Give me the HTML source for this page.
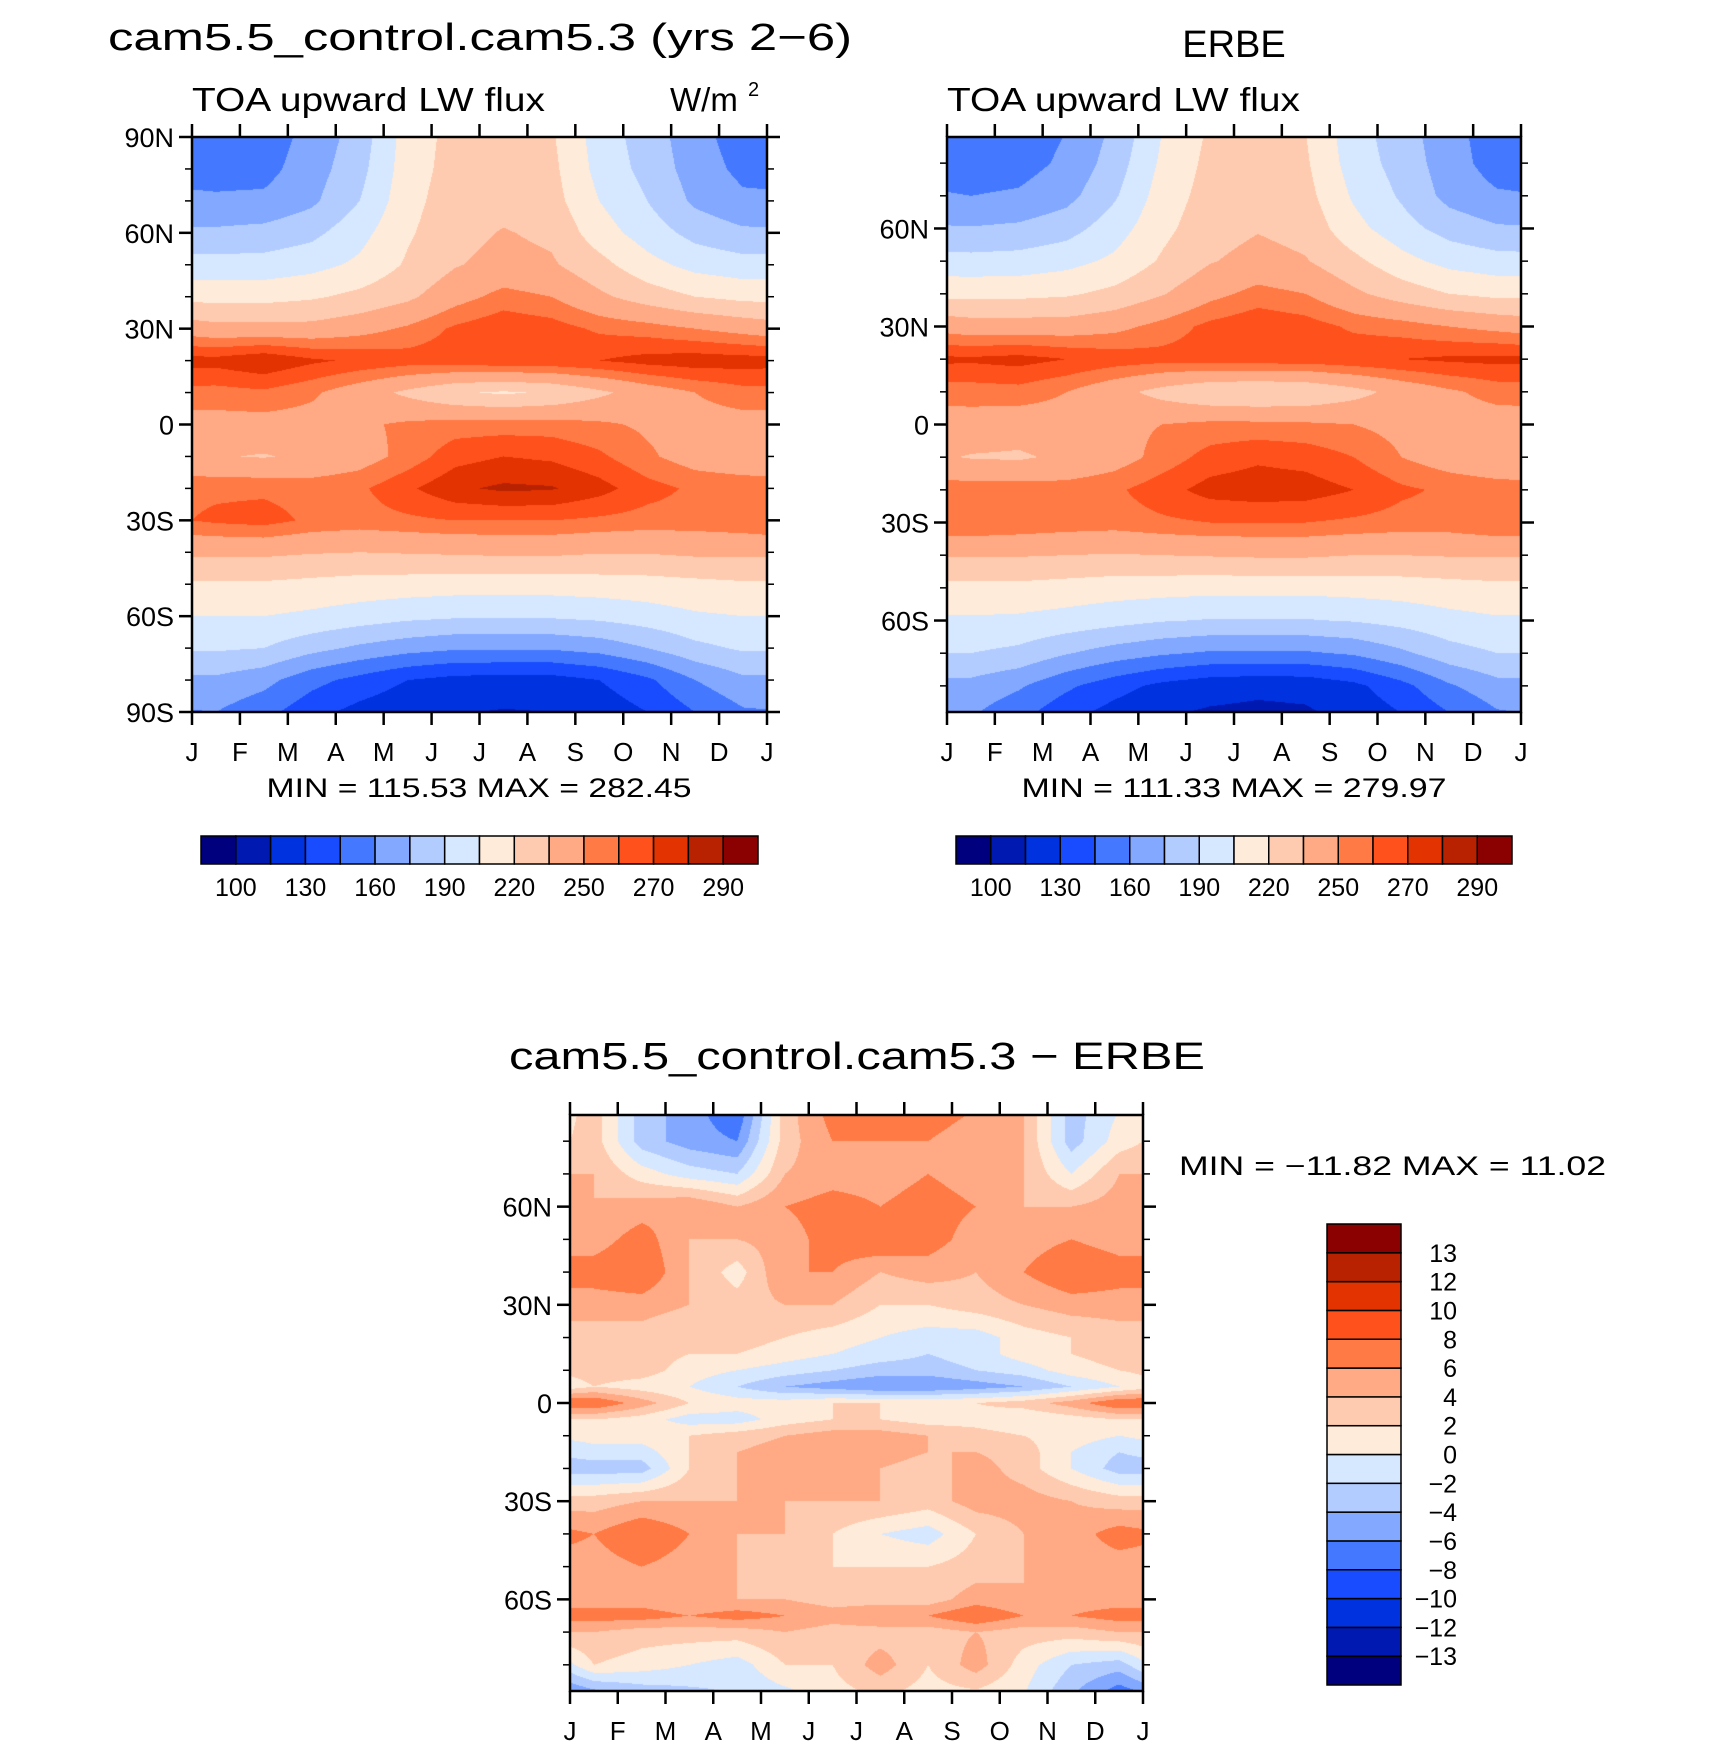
<!DOCTYPE html>
<html><head><meta charset="utf-8">
<style>
html,body{margin:0;padding:0;background:#fff;}
#wrap{position:relative;width:1710px;height:1747px;overflow:hidden;background:#fff;}
canvas{position:absolute;}
svg{position:absolute;left:0;top:0;}
text{font-family:"Liberation Sans",sans-serif;fill:#000;}
</style></head>
<body>
<div id="wrap">
<canvas id="c1" width="575" height="575" style="left:192px;top:137px"></canvas>
<canvas id="c2" width="574" height="575" style="left:947px;top:137px"></canvas>
<canvas id="c3" width="573" height="576" style="left:570px;top:1115px"></canvas>
<svg id="svg" width="1710" height="1747"></svg>
</div>
<script>
// ---- data ----
const months = ["J","F","M","A","M","J","J","A","S","O","N","D","J"];
const levelsAbs = [100,115,130,145,160,175,190,205,220,235,250,260,270,280,290];
const levelsAbsLabels = ["100","","130","","160","","190","","220","","250","","270","","290"];
const levelsDiff = [-13,-12,-10,-8,-6,-4,-2,0,2,4,6,8,10,12,13];
const levelsDiffLabels = ["−13","−12","−10","−8","−6","−4","−2","0","2","4","6","8","10","12","13"];
const colors = ["#00007f","#0019b0","#0032e0","#1a4cff","#4479ff","#82a8ff","#b3ccff","#d6e8ff","#ffebd9","#ffcbb0","#ffaa85","#ff7a45","#ff511c","#e33300","#b82200","#8b0000"];

const latsAbs = [90,80,70,60,50,40,30,20,10,0,-10,-20,-30,-40,-50,-60,-70,-80,-90];
const modelVals = [
[152,152,165,182,212,225,228,222,198,183,166,152],
[155,155,168,185,213,226,229,224,200,185,168,156],
[162,163,172,190,215,228,230,226,205,190,172,163],
[178,180,186,200,218,230,236,232,212,198,185,178],
[196,196,200,208,222,234,240,237,225,210,200,196],
[215,215,218,224,232,245,254,250,238,228,220,216],
[240,240,240,245,252,262,268,265,258,255,250,245],
[274,279,272,268,265,266,268,268,270,274,276,275],
[256,258,252,242,232,222,218,222,232,242,250,256],
[245,245,245,248,252,255,255,255,252,248,245,245],
[236,234,238,244,254,266,270,268,262,252,244,240],
[258,258,256,258,268,278,282,281,274,264,258,257],
[262,264,258,256,258,260,260,260,258,256,256,258],
[238,238,236,235,236,237,238,238,236,236,238,238],
[218,218,216,214,213,212,212,212,213,214,216,218],
[205,205,202,198,194,192,192,192,194,198,203,205],
[192,190,180,172,166,162,162,162,166,175,186,192],
[172,165,150,140,130,125,124,124,130,142,160,172],
[160,150,135,125,118,116,114,115,120,130,145,158]];
const erbeVals = [
[150,152,160,178,205,222,225,220,196,182,165,152],
[152,154,163,182,208,224,227,222,198,184,167,153],
[160,162,170,188,212,226,229,225,203,188,170,162],
[176,178,184,198,216,229,234,230,210,196,184,177],
[195,196,200,208,222,234,240,236,224,210,200,196],
[216,216,218,224,234,246,254,250,238,228,220,216],
[242,242,242,246,254,263,268,265,258,255,250,246],
[272,274,270,266,264,265,266,266,268,270,272,273],
[255,256,250,240,230,222,220,222,230,240,248,254],
[244,242,244,247,250,253,253,252,250,246,244,244],
[234,233,238,244,254,264,268,266,260,250,243,238],
[256,256,255,258,266,274,276,275,270,262,258,256],
[260,258,256,255,258,260,260,260,258,256,256,260],
[236,236,235,234,235,236,237,237,235,235,236,236],
[216,216,214,212,211,210,210,210,211,212,214,216],
[203,202,199,195,191,189,189,189,191,195,200,203],
[190,186,176,168,162,158,158,158,162,172,184,190],
[170,162,148,136,126,120,118,119,126,140,158,170],
[160,148,132,122,114,112,111,112,118,128,142,156]];

const latsDiff = [90,80,70,60,50,40,30,20,15,10,5,0,-5,-10,-15,-20,-30,-40,-50,-60,-65,-70,-80,-90];
const diffVals = [
[3,-3,-5,-8,3,7,7,7,6,4,-3,0],
[3,-3,-5,-6,3,6,6,6,5,4,-3,1],
[4,1,-1,-2,4,5,5,6,5,4,0,4],
[4,5,6,4,6,7,6,7,6,4,4,5],
[5,7,4,4,5,7,8,7,5,5,6,5],
[7,8,4,1,6,6,4,5,4,6,8,7],
[5,5,4,3,4,4,2,2,3,4,5,5],
[3,3,2,3,2,1,0,-1,-1,1,2,3],
[3,3,2,2,1,0,-1,-2,-1,1,2,3],
[3,3,1,0,-1,-2,-3,-3,-2,-1,1,2],
[2,1,0,-2,-4,-5,-6,-6,-5,-4,-2,0],
[8,5,2,1,1,2,2,2,2,3,5,8],
[2,1,-1,-1,1,2,2,1,1,0,1,2],
[1,1,2,3,4,5,5,4,3,2,1,0],
[-1,-1,2,4,5,6,5,4,4,3,0,-2],
[-3,-3,2,4,6,5,4,3,5,3,0,-3],
[3,4,4,4,4,4,4,3,5,5,4,3],
[6,8,6,4,4,2,0,-1,2,4,5,7],
[5,6,5,4,3,2,2,2,3,4,5,5],
[5,5,4,4,4,3,3,3,5,4,5,5],
[7,7,6,7,6,5,6,6,8,6,6,7],
[4,3,3,3,4,3,3,3,4,3,3,4],
[2,1,0,-1,2,2,5,2,5,1,-2,-3],
[-6,-4,-3,-2,-1,1,2,1,1,0,-4,-8]];

// ---- rendering ----
function hexRGB(h){return [parseInt(h.substr(1,2),16),parseInt(h.substr(3,2),16),parseInt(h.substr(5,2),16)];}
const rgb = colors.map(hexRGB);
function levelIdx(v,lev){let i=0;while(i<lev.length&&v>=lev[i])i++;return i;}
function sample(vals,lats,lat,mf){
  let t=mf-0.5; let m0=Math.floor(t); let f=t-m0;
  let a=((m0%12)+12)%12, b=(a+1)%12;
  let r=0; while(r<lats.length-2 && lat<lats[r+1]) r++;
  let g=(lats[r]-lat)/(lats[r]-lats[r+1]); g=Math.max(0,Math.min(1,g));
  let v0=vals[r][a]*(1-f)+vals[r][b]*f;
  let v1=vals[r+1][a]*(1-f)+vals[r+1][b]*f;
  return v0*(1-g)+v1*g;
}
function drawField(id,vals,lats,latMax,lev){
  const c=document.getElementById(id),ctx=c.getContext('2d');
  const W=c.width,H=c.height,img=ctx.createImageData(W,H);
  for(let y=0;y<H;y++){const lat=latMax-(y+0.5)/H*2*latMax;
    for(let x=0;x<W;x++){const mf=(x+0.5)/W*12;
      const col=rgb[levelIdx(sample(vals,lats,lat,mf),lev)];
      const k=(y*W+x)*4;img.data[k]=col[0];img.data[k+1]=col[1];img.data[k+2]=col[2];img.data[k+3]=255;}}
  ctx.putImageData(img,0,0);
}
drawField('c1',modelVals,latsAbs,90,levelsAbs);
drawField('c2',erbeVals,latsAbs,88,levelsAbs);
drawField('c3',diffVals,latsDiff,88,levelsDiff);

const svg=document.getElementById('svg');
const NS="http://www.w3.org/2000/svg";
function el(tag,attrs,parent){const e=document.createElementNS(NS,tag);for(const k in attrs)e.setAttribute(k,attrs[k]);(parent||svg).appendChild(e);return e;}
function txt(s,x,y,size,anchor,name,len){const t=el('text',{x:x,y:y,'font-size':size,'text-anchor':anchor||'start'});
  if(len){t.setAttribute('textLength',len);t.setAttribute('lengthAdjust','spacingAndGlyphs');}
  t.textContent=s;
  
  
  return t;}

function axes(L,T,W,H,latMax,prefix){
  const g=el('g',{});
  
  
  const yOf=lat=>T+(latMax-lat)/(2*latMax)*H;
  const xOf=i=>L+i/12*W;
  el('rect',{x:L,y:T,width:W,height:H,fill:'none',stroke:'#000','stroke-width':2.5},g);
  for(let lat=-90;lat<=90;lat+=10){
    if(Math.abs(lat)>latMax+0.01)continue;
    const y=yOf(lat),maj=lat%30===0,len=maj?13:7;
    el('line',{x1:L-len,y1:y,x2:L,y2:y,stroke:'#000','stroke-width':maj?2.5:1.5},g);
    el('line',{x1:L+W,y1:y,x2:L+W+len,y2:y,stroke:'#000','stroke-width':maj?2.5:1.5},g);
    if(maj){const lab=lat===0?'0':Math.abs(lat)+(lat>0?'N':'S');
      txt(lab,L-18,y+10,27,'end',prefix+'-y-label-'+lab,null);}
  }
  for(let i=0;i<=12;i++){const x=xOf(i);
    el('line',{x1:x,y1:T-13,x2:x,y2:T,stroke:'#000','stroke-width':2.5},g);
    el('line',{x1:x,y1:T+H,x2:x,y2:T+H+13,stroke:'#000','stroke-width':2.5},g);
    txt(months[i],x,T+H+49,26,'middle',prefix+'-x-label-'+i,null);
  }
}
function hbar(L,T,W,H,lev,labels,prefix){
  const n=colors.length,bw=W/n;
  for(let i=0;i<n;i++){const r=el('rect',{x:L+i*bw,y:T,width:bw,height:H,fill:colors[i],stroke:'#000','stroke-width':1.5});
    
    }
  for(let i=0;i<lev.length;i++){if(!labels[i])continue;
    txt(labels[i],L+(i+1)*bw,T+H+32,25,'middle',prefix+'-colorbar-label-'+labels[i],null);}
}
function vbar(L,T,W,H,lev,labels,prefix){
  const n=colors.length,bh=H/n;
  for(let i=0;i<n;i++){const r=el('rect',{x:L,y:T+H-(i+1)*bh,width:W,height:bh,fill:colors[i],stroke:'#000','stroke-width':1.5});
    
    }
  for(let i=0;i<lev.length;i++){
    txt(labels[i],L+W+56,T+H-(i+1)*bh+9,25,'end',prefix+'-colorbar-label-'+i,null);}
}

// panel 1
txt("cam5.5_control.cam5.3 (yrs 2−6)",108,50,38,'start','model-title',744);
txt("TOA upward LW flux",192,111,33,'start','model-subtitle',353);
txt("W/m",670,111,33,'start','model-units',null);
txt("2",748,96,20,'start','model-units-exponent',null);
axes(192,137,575,575,90,'model');
txt("MIN = 115.53 MAX = 282.45",479,797,27,'middle','model-min-max',425);
hbar(201,836,557,28,levelsAbs,levelsAbsLabels,'model');

// panel 2
txt("ERBE",1234,57,38,'middle','erbe-title',null);
txt("TOA upward LW flux",947,111,33,'start','erbe-subtitle',353);
axes(947,137,574,575,88,'erbe');
txt("MIN = 111.33 MAX = 279.97",1234,797,27,'middle','erbe-min-max',425);
hbar(956,836,556,28,levelsAbs,levelsAbsLabels,'erbe');

// panel 3
txt("cam5.5_control.cam5.3 − ERBE",509,1069,38,'start','difference-title',696);
axes(570,1115,573,576,88,'difference');
txt("MIN = −11.82 MAX =   11.02",1179,1175,27,'start','difference-min-max',427);
vbar(1327,1224,74,461,levelsDiff,levelsDiffLabels,'difference');
</script>
</body></html>
